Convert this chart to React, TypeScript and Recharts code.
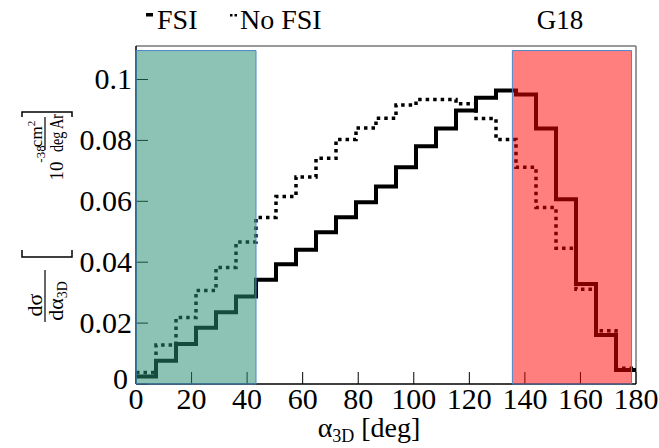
import React from "react";
import {
  LineChart,
  Line,
  XAxis,
  YAxis,
  ReferenceArea,
  ReferenceLine,
} from "recharts";

// bin edges of alpha_3D histogram [deg]
const binEdges = [
  0, 7.2, 14.4, 21.6, 28.8, 36, 43.2, 50.4, 57.6, 64.8, 72, 79.2, 86.4, 93.6,
  100.8, 108, 115.2, 122.4, 129.6, 136.8, 144, 151.2, 158.4, 165.6, 172.8, 180,
];

// dsigma/dalpha per bin (10^-38 cm^2 / deg Ar)
const fsi = [
  0.0025, 0.0076, 0.0131, 0.0185, 0.0236, 0.0287, 0.0342, 0.0393, 0.0441,
  0.0498, 0.0548, 0.0597, 0.0649, 0.0712, 0.0781, 0.0839, 0.0898, 0.094,
  0.0964, 0.0951, 0.0839, 0.0607, 0.0328, 0.0161, 0.0046,
];
const noFsi = [
  0.0038, 0.0128, 0.0218, 0.0307, 0.0383, 0.0466, 0.0547, 0.0616, 0.068,
  0.0741, 0.0803, 0.0841, 0.0873, 0.0916, 0.0934, 0.0934, 0.092, 0.0872,
  0.0803, 0.0712, 0.058, 0.0446, 0.0311, 0.0175, 0.0052,
];

const xTicks = [0, 20, 40, 60, 80, 100, 120, 140, 160, 180];
const yTicks = [0, 0.02, 0.04, 0.06, 0.08, 0.1];

// shaded regions
const lowRegion = [0, 43.2];
const highRegion = [135.5, 178.4];
const regionTop = 0.1095;

// step data: last edge repeats the last bin value
const data = binEdges.map((edge, i) => ({
  x: edge,
  fsi: fsi[Math.min(i, fsi.length - 1)],
  noFsi: noFsi[Math.min(i, noFsi.length - 1)],
}));

const FONT = "Liberation Serif, DejaVu Serif";

const fmtY = (v: number) => (v === 0 ? "0" : String(Number(v.toFixed(2))));

const XTick = (props: any) => {
  const { x, y, payload } = props;
  return (
    <text x={x} y={y} dy={21} textAnchor="middle" fontSize={30} fontFamily={FONT} fill="#000">
      {payload.value}
    </text>
  );
};

const YTick = (props: any) => {
  const { x, y, payload } = props;
  // the zero label sits a little up-left so it clears the x-axis zero
  const zero = payload.value === 0;
  return (
    <text
      x={zero ? x - 4 : x}
      y={y}
      dy={zero ? 5 : 10}
      textAnchor="end"
      fontSize={30}
      fontFamily={FONT}
      fill="#000"
    >
      {fmtY(payload.value)}
    </text>
  );
};

export default function App() {
  return (
    <div style={{ position: "relative", width: 659, height: 448, fontFamily: FONT }}>
      <style>{`body{margin:0;background:#fff}`}</style>
      <LineChart
        width={659}
        height={448}
        data={data}
        margin={{ top: 46, right: 23, bottom: 0, left: 0 }}
      >
        <XAxis
          dataKey="x"
          type="number"
          domain={[0, 180]}
          ticks={xTicks}
          height={64}
          tickSize={-12}
          tickMargin={16}
          axisLine={{ stroke: "#000", strokeWidth: 1.5 }}
          tickLine={{ stroke: "#000" }}
          tick={<XTick />}
        />
        <YAxis
          type="number"
          domain={[0, 0.111]}
          ticks={yTicks}
          width={136}
          tickSize={-12}
          tickMargin={16}
          axisLine={{ stroke: "#000", strokeWidth: 1.5 }}
          tickLine={{ stroke: "#000" }}
          tick={<YTick />}
        />
        <ReferenceLine y={0.111} stroke="#777" strokeWidth={1.5} />
        <ReferenceLine x={180} stroke="#777" strokeWidth={1.5} />
        <Line
          type="stepAfter"
          dataKey="noFsi"
          stroke="#000"
          strokeWidth={3.5}
          strokeDasharray="3.5 4"
          dot={false}
          isAnimationActive={false}
        />
        <Line
          type="stepAfter"
          dataKey="fsi"
          stroke="#000"
          strokeWidth={4}
          dot={false}
          isAnimationActive={false}
        />
        <ReferenceArea
          x1={lowRegion[0]}
          x2={lowRegion[1]}
          y1={0}
          y2={regionTop}
          fill="#268d71"
          fillOpacity={0.53}
          stroke="#4a86c8"
          strokeWidth={1}
          zIndex={900}
        />
        <ReferenceArea
          x1={highRegion[0]}
          x2={highRegion[1]}
          y1={0}
          y2={regionTop}
          fill="#ff0000"
          fillOpacity={0.5}
          stroke="#4a86c8"
          strokeWidth={1}
          zIndex={900}
        />
      </LineChart>

      {/* legend, model name and axis titles */}
      <svg
        width={659}
        height={448}
        style={{ position: "absolute", left: 0, top: 0, pointerEvents: "none" }}
        fontFamily={FONT}
        fill="#000"
      >
        <rect x={146} y={13} width={7} height={3.5} />
        <text x={157} y={29} fontSize={28}>FSI</text>
        <rect x={230} y={14} width={2.5} height={2.5} />
        <rect x={234.5} y={14} width={2.5} height={2.5} />
        <text x={240} y={29} fontSize={28}>No FSI</text>
        <text x={560} y={29} fontSize={27} textAnchor="middle">G18</text>

        <text x={369} y={437} fontSize={28} textAnchor="middle">
          α<tspan fontSize={18} dy={5}>3D</tspan>
          <tspan dy={-5}> [deg]</tspan>
        </text>

        {/* y title: dσ/dα3D [10^-38 cm²/(deg Ar)] */}
        <text transform="translate(42,305) rotate(-90)" fontSize={22} textAnchor="middle">dσ</text>
        <line x1={45} y1={270} x2={45} y2={322} stroke="#000" strokeWidth={1.2} />
        <text transform="translate(63,301) rotate(-90)" fontSize={22} textAnchor="middle">
          dα<tspan fontSize={14} dy={4}>3D</tspan>
        </text>
        <path d="M22,250 L22,257 L72,257 L72,250" fill="none" stroke="#000" strokeWidth={1.5} />
        <text transform="translate(63,171) rotate(-90)" fontSize={19} textAnchor="middle">10</text>
        <text transform="translate(45,154) rotate(-90)" fontSize={13} textAnchor="middle">-38</text>
        <text transform="translate(42,134) rotate(-90)" fontSize={17} textAnchor="middle">
          cm<tspan fontSize={11} dy={-7}>2</tspan>
        </text>
        <line x1={45} y1={117} x2={45} y2={150} stroke="#000" strokeWidth={1.2} />
        <text
          transform="translate(63,133) rotate(-90)"
          fontSize={18}
          textAnchor="middle"
          textLength={38}
          lengthAdjust="spacingAndGlyphs"
        >
          deg Ar
        </text>
        <path d="M22,117 L22,112 L72,112 L72,117" fill="none" stroke="#000" strokeWidth={1.5} />
      </svg>
    </div>
  );
}
